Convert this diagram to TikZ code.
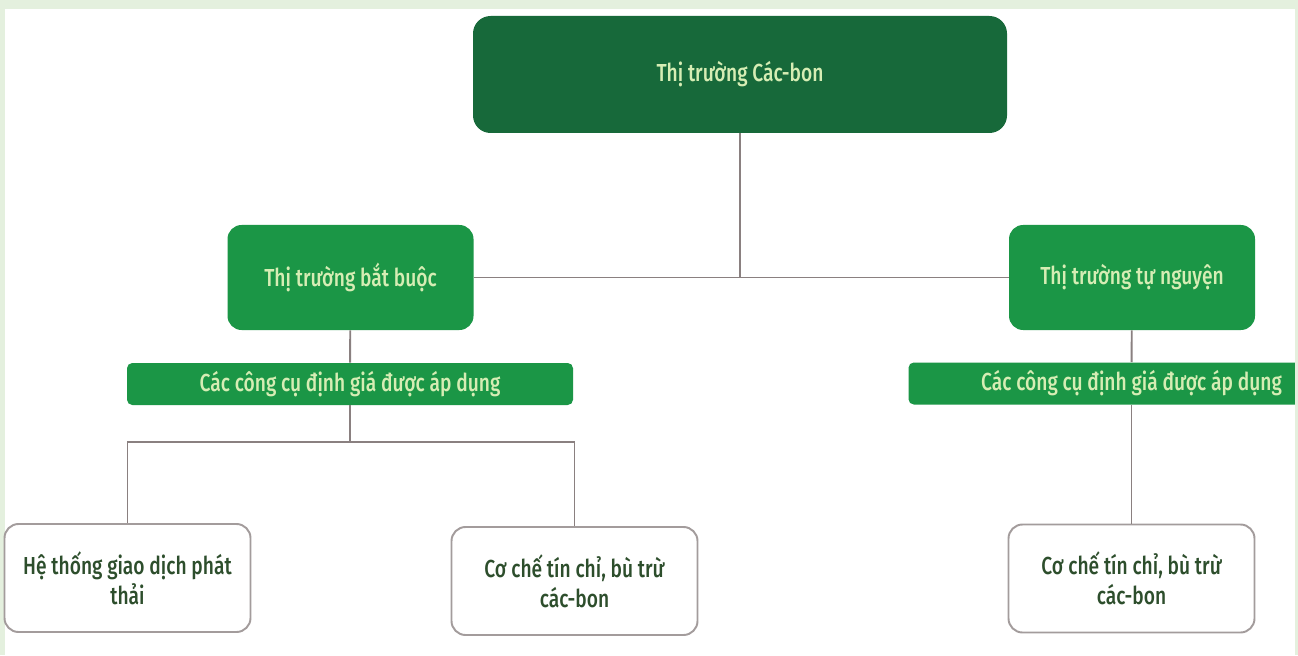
\documentclass[tikz,border=0pt]{standalone}
\usepackage{fontspec}
\setmainfont[FakeStretch=0.78]{Fira Sans Medium}

\definecolor{FrameGreen}{HTML}{E4F0DE}
\definecolor{DarkGreen}{HTML}{17693A}
\definecolor{MidGreen}{HTML}{1B9646}
\definecolor{PaleText}{HTML}{D6EDB4}
\definecolor{LeafText}{HTML}{2D4E2C}
\definecolor{LineGray}{HTML}{8A8080}
\definecolor{BoxGray}{HTML}{A39C9C}

\tikzset{MarketNode/.style={fill=MidGreen, text=PaleText, minimum width=4.92cm, minimum height=2.10cm, rounded corners=8pt}}
\tikzset{ToolBar/.style={fill=MidGreen, text=PaleText, minimum width=8.92cm, minimum height=0.84cm, rounded corners=3pt}}
\tikzset{LeafNode/.style={draw=BoxGray, line width=1.1pt, fill=white, text=LeafText, minimum width=4.92cm, minimum height=2.16cm, rounded corners=8pt}}

\begin{document}
\begin{tikzpicture}

\useasboundingbox (0,0) rectangle (25.96,13.10);

% Page frame
\fill [FrameGreen] (0,0) rectangle (25.96,13.10);
\fill [white] (0.10,0) rectangle (25.90,12.92);

\begin{scope}[every node/.style={rectangle, align=center, inner sep=0pt, font=\fontsize{14}{17}\selectfont}]
    % Root
    \node (CB) at (14.80,11.61) [fill=DarkGreen, text=PaleText, minimum width=10.68cm, minimum height=2.34cm, rounded corners=10pt]
        {Thị trường Các-bon};

    % Two markets
    \node (BB) at (7.01,7.55) [MarketNode] {Thị trường bắt buộc};
    \node (TN) at (22.64,7.55) [MarketNode] {Thị trường tự nguyện};

    % Pricing tools bars
    \node (BT) at (7.00,5.42) [ToolBar] {Các công cụ định giá được áp dụng};
    \node (NT) at (22.63,5.43) [ToolBar] {Các công cụ định giá được áp dụng};

    % Leaves
    \node (HT) at (2.55,1.54) [LeafNode] {Hệ thống giao dịch phát\\thải};
    \node (TC) at (11.49,1.48) [LeafNode] {Cơ chế tín chỉ, bù trừ\\các-bon};
    \node (TN2) at (22.63,1.53) [LeafNode] {Cơ chế tín chỉ, bù trừ\\các-bon};
\end{scope}

% Joints
\coordinate (J) at (14.80,7.55);
\coordinate (BJ) at (7.00,4.26);

\begin{scope}[every edge/.style={draw=LineGray, line width=1.1pt}]
    \path (CB) edge (J);
    \path (BB.east) edge (TN.west);

    \path (BB) edge (BT);
    \path (BT) edge (BJ);
    \path (TN) edge (NT);
    \path (NT) edge (TN2);
\end{scope}

\draw [LineGray, line width=1.1pt] (HT.north) |- (BJ) -| (TC.north);

% Right edge of the frame over the bar
\fill [FrameGreen] (25.90,0) rectangle (25.96,13.10);

\end{tikzpicture}
\end{document}
